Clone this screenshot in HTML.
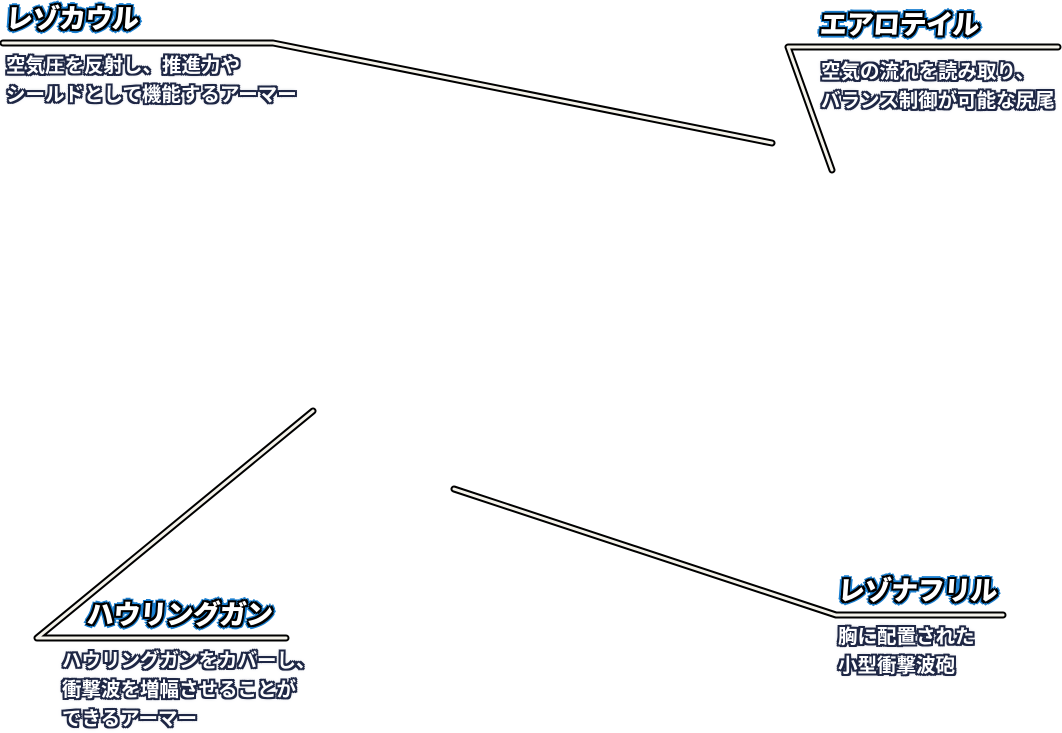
<!DOCTYPE html>
<html><head><meta charset="utf-8"><style>
html,body{margin:0;padding:0;background:#fff;width:1062px;height:733px;overflow:hidden;position:relative}
.t{position:absolute;font-family:"Liberation Sans","Noto Sans CJK JP",sans-serif;font-weight:900;font-size:27px;line-height:32px;color:#fff;white-space:nowrap;transform:skewX(-4deg);letter-spacing:-0.5px;
text-shadow:-2px 0 #000,2px 0 #000,0 -2px #000,0 2px #000,-2px -2px #000,2px 2px #000,-2px 2px #000,2px -2px #000,
-4px 0 #1a7fd0,4px 0 #1a7fd0,0 -4px #1a7fd0,0 4px #1a7fd0,-3px -3px #1a7fd0,3px 3px #1a7fd0,-3px 3px #1a7fd0,3px -3px #1a7fd0}
.d{position:absolute;font-family:"Liberation Sans","Noto Sans CJK JP",sans-serif;font-weight:700;font-size:19.5px;line-height:29px;color:#fff;white-space:nowrap;letter-spacing:0px;
text-shadow:-2px 0 #1e2745,2px 0 #1e2745,0 -2px #1e2745,0 2px #1e2745,-2px -2px #1e2745,2px 2px #1e2745,-2px 2px #1e2745,2px -2px #1e2745,0 0 4px #6a7390}
svg{position:absolute;left:0;top:0}
</style></head><body>
<svg width="1062" height="733">
<g fill="none" stroke-linecap="round" stroke-linejoin="round">
<g stroke="#000" stroke-width="7">
<polyline points="3,43 273,43 772,143"/>
<polyline points="832,170 788,47 1058,47"/>
<polyline points="313,411 37,638 286,638"/>
<polyline points="454,489 836,615 1003,615"/>
</g>
<g stroke="#f4f2ea" stroke-width="3">
<polyline points="3,43 273,43 772,143"/>
<polyline points="832,170 788,47 1058,47"/>
<polyline points="313,411 37,638 286,638"/>
<polyline points="454,489 836,615 1003,615"/>
</g>
</g>
</svg>
<div class="t" style="left:6px;top:3px">レゾカウル</div>
<div class="d" style="left:6px;top:52px">空気圧を反射し、推進力や<br>シールドとして機能するアーマー</div>
<div class="t" style="left:820px;top:9px">エアロテイル</div>
<div class="d" style="left:821px;top:58px">空気の流れを読み取り、<br>バランス制御が可能な尻尾</div>
<div class="t" style="left:87px;top:599px">ハウリングガン</div>
<div class="d" style="left:62px;top:647px">ハウリングガンをカバーし、<br>衝撃波を増幅させることが<br>できるアーマー</div>
<div class="t" style="left:838px;top:575px">レゾナフリル</div>
<div class="d" style="left:838px;top:623px">胸に配置された<br>小型衝撃波砲</div>
</body></html>
